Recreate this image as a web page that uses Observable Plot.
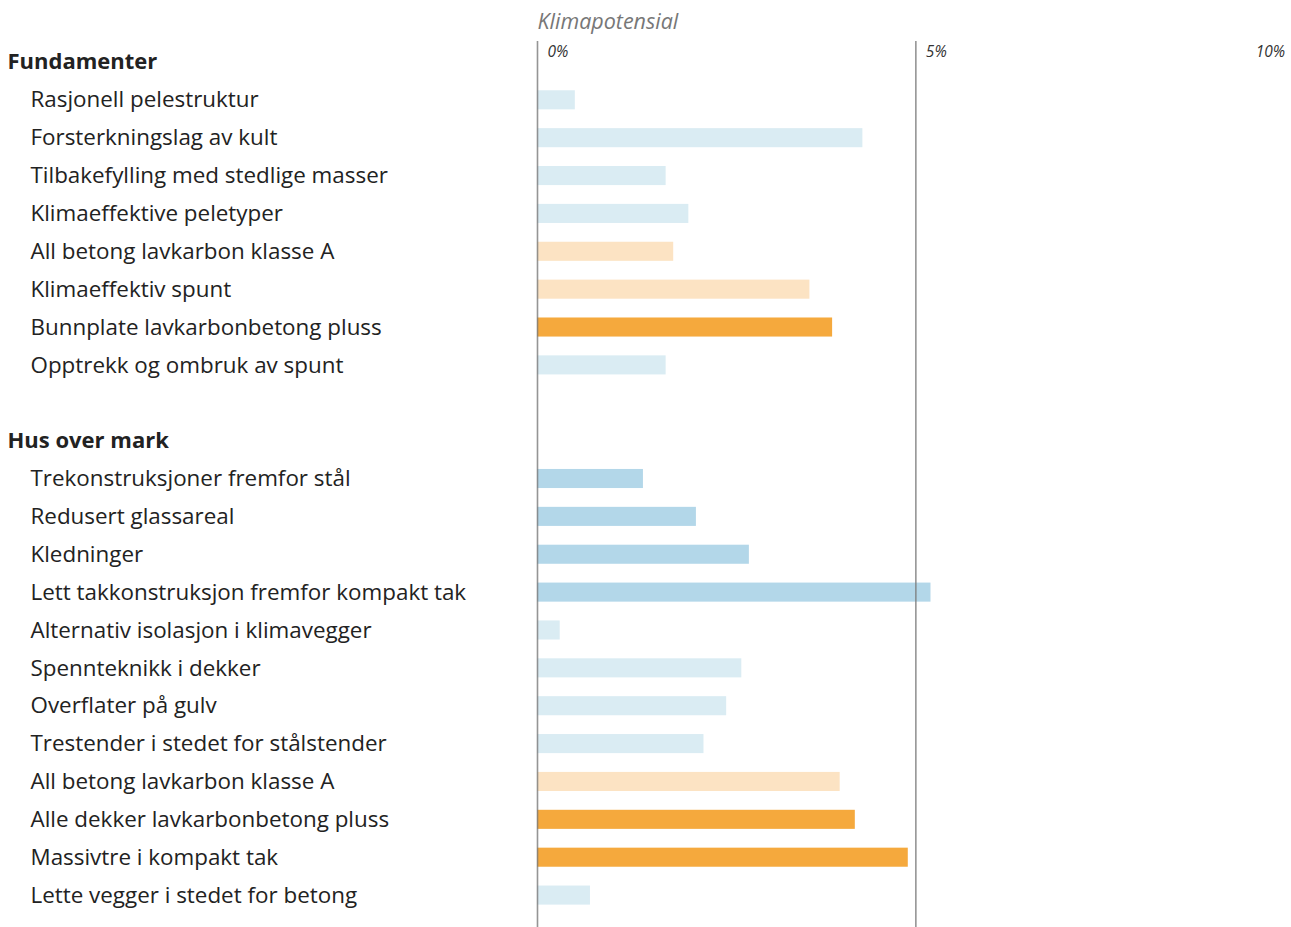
<!DOCTYPE html>
<html>
<head>
<meta charset="utf-8">
<script src="https://cdn.jsdelivr.net/npm/d3@7"></script>
<script src="https://cdn.jsdelivr.net/npm/@observablehq/plot@0.6"></script>
<style>
  html, body { margin: 0; padding: 0; background: #fff; }
  #chart svg { display: block; }
</style>
</head>
<body>
<div id="chart"></div>
<script>
// ---- Data ----
const groupNames = ["Fundamenter", "Hus over mark"];

const fundamenterLabels = [
  "Rasjonell pelestruktur",
  "Forsterkningslag av kult",
  "Tilbakefylling med stedlige masser",
  "Klimaeffektive peletyper",
  "All betong lavkarbon klasse A",
  "Klimaeffektiv spunt",
  "Bunnplate lavkarbonbetong pluss",
  "Opptrekk og ombruk av spunt"
];
const fundamenterValues = [0.5, 4.3, 1.7, 2.0, 1.8, 3.6, 3.9, 1.7];
const fundamenterKinds = ["lysblå", "lysblå", "lysblå", "lysblå", "lysoransje", "lysoransje", "oransje", "lysblå"];

const husLabels = [
  "Trekonstruksjoner fremfor stål",
  "Redusert glassareal",
  "Kledninger",
  "Lett takkonstruksjon fremfor kompakt tak",
  "Alternativ isolasjon i klimavegger",
  "Spennteknikk i dekker",
  "Overflater på gulv",
  "Trestender i stedet for stålstender",
  "All betong lavkarbon klasse A",
  "Alle dekker lavkarbonbetong pluss",
  "Massivtre i kompakt tak",
  "Lette vegger i stedet for betong"
];
const husValues = [1.4, 2.1, 2.8, 5.2, 0.3, 2.7, 2.5, 2.2, 4.0, 4.2, 4.9, 0.7];
const husKinds = ["blå", "blå", "blå", "blå", "lysblå", "lysblå", "lysblå", "lysblå", "lysoransje", "oransje", "oransje", "lysblå"];

const kindDomain = ["lysblå", "blå", "lysoransje", "oransje"];
const kindColors = ["#daecf3", "#b3d7e9", "#fce3c3", "#f5a93d"];

const xTicks = [0, 5, 10];
const xTickLabels = ["0%", "5%", "10%"];
const axisTitle = "Klimapotensial";

// ---- Build rows ----
const rows = [];
function addGroup(name, labels, values, kinds) {
  rows.push({id: "h" + rows.length, label: name, header: true});
  labels.forEach((l, i) => rows.push({id: "r" + rows.length, label: l, value: values[i], kind: kinds[i], header: false}));
}
addGroup(groupNames[0], fundamenterLabels, fundamenterValues, fundamenterKinds);
rows.push({id: "blank" + rows.length, label: "", header: false, blank: true});
addGroup(groupNames[1], husLabels, husValues, husKinds);

const items = rows.filter(r => !r.header && !r.blank);
const headers = rows.filter(r => r.header);
const tickData = xTicks.map((t, i) => ({t, label: xTickLabels[i]}));

const FONT = "'Open Sans', Lato, sans-serif";

const chart = Plot.plot({
  width: 1291,
  height: 927,
  marginLeft: 537,
  marginRight: 0,
  marginTop: 41,
  marginBottom: 0,
  style: {fontFamily: FONT, background: "#fff", overflow: "visible"},
  x: {domain: [0, 10], range: [537, 1293.7], axis: null},
  y: {type: "band", domain: rows.map(r => r.id), range: [43, 914], paddingInner: 0, paddingOuter: 0, round: false, axis: null},
  color: {domain: kindDomain, range: kindColors},
  marks: [
    Plot.barX(items, {x: "value", y: "id", fill: "kind", insetTop: 9.4, insetBottom: 9.4}),
    Plot.ruleX(xTicks, {stroke: "#7a7a7a", strokeWidth: 1.6, strokeOpacity: 0.8}),
    Plot.text(headers, {y: "id", text: "label", frameAnchor: "left", textAnchor: "start", dx: -530, fontSize: 22, fontWeight: 700, fill: "#222"}),
    Plot.text(items, {y: "id", text: "label", frameAnchor: "left", textAnchor: "start", dx: -507, fontSize: 22.4, fill: "#222"}),
    Plot.text(tickData.filter(d => d.t < 10), {x: "t", text: "label", frameAnchor: "top", lineAnchor: "middle", textAnchor: "start", dx: 10, dy: 11, fontSize: 15.5, fontStyle: "italic", fill: "#333"}),
    Plot.text(tickData.filter(d => d.t >= 10), {x: "t", text: "label", frameAnchor: "top", lineAnchor: "middle", textAnchor: "end", dx: -9, dy: 11, fontSize: 15.5, fontStyle: "italic", fill: "#333"}),
    Plot.text([axisTitle], {x: 0, text: d => d, frameAnchor: "top", lineAnchor: "middle", textAnchor: "start", dy: -19, fontSize: 21.5, fontStyle: "italic", fill: "#777"})
  ]
});
document.getElementById("chart").appendChild(chart);
</script>
</body>
</html>
